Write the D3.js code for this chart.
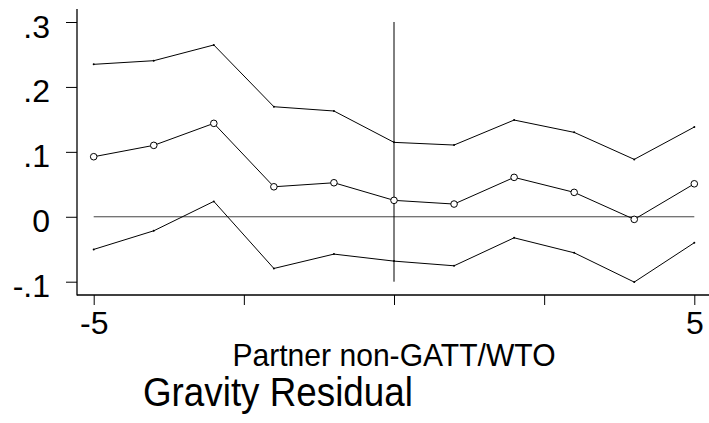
<!DOCTYPE html>
<html>
<head>
<meta charset="utf-8">
<script src="https://cdn.jsdelivr.net/npm/d3@7"></script>
<style>
  html, body { margin: 0; padding: 0; background: #fff; }
  svg { display: block; }
  text { font-family: "Liberation Sans", Arial, Helvetica, sans-serif; fill: #000; }
</style>
</head>
<body>
<svg id="chart" width="709" height="423"></svg>
<script>
// Event-time leads/lags
const periods = [-5, -4, -3, -2, -1, 0, 1, 2, 3, 4, 5];
// Point estimates and 95% confidence bounds
const estimate = [0.0925, 0.110, 0.1439, 0.0462, 0.0524, 0.0253, 0.0196, 0.0607, 0.0376, -0.004, 0.0508];
const upperCI  = [0.2348, 0.2404, 0.2646, 0.1695, 0.1629, 0.1146, 0.1105, 0.149, 0.130, 0.0884, 0.1382];
const lowerCI  = [-0.0503, -0.0216, 0.0237, -0.0796, -0.0575, -0.0683, -0.0755, -0.0324, -0.0555, -0.1006, -0.040];
// Axis ticks
const yTicks = [-0.1, 0, 0.1, 0.2, 0.3];
const yTickLabels = ["-.1", "0", ".1", ".2", ".3"];
const xTicks = [-5, -2.5, 0, 2.5, 5];
const xTickLabels = ["-5", "", "", "", "5"];
const xTitle = "Partner non-GATT/WTO";
const chartTitle = "Gravity Residual";

const svg = d3.select("#chart");

const x = d3.scaleLinear().domain([-5, 5]).range([93.7, 694.3]);
const y = d3.scaleLinear().domain([-0.1, 0.3]).range([281.7, 22]);

const axisX = 77, axisY = 295;

// Y axis
const yAxis = d3.axisLeft(y).tickValues(yTicks)
  .tickFormat((d, i) => yTickLabels[i]).tickSize(11).tickPadding(16).tickSizeOuter(0);
const gy = svg.append("g").attr("transform", `translate(${axisX},0)`).call(yAxis);
gy.select(".domain").remove();
gy.selectAll(".tick line").attr("stroke", "#000").attr("stroke-width", 1);
gy.selectAll(".tick text").attr("font-size", 32).attr("dy", "0.47em");
svg.append("line").attr("x1", axisX).attr("x2", axisX).attr("y1", 9).attr("y2", axisY + 0.5)
  .attr("stroke", "#000").attr("stroke-width", 1.3);

// X axis
const xAxis = d3.axisBottom(x).tickValues(xTicks)
  .tickFormat((d, i) => xTickLabels[i]).tickSize(10).tickPadding(6).tickSizeOuter(0);
const gx = svg.append("g").attr("transform", `translate(0,${axisY})`).call(xAxis);
gx.select(".domain").remove();
gx.selectAll(".tick line").attr("stroke", "#000").attr("stroke-width", 1);
gx.selectAll(".tick text").attr("font-size", 32);
svg.append("line").attr("x1", axisX).attr("x2", 709).attr("y1", axisY).attr("y2", axisY)
  .attr("stroke", "#000").attr("stroke-width", 1.3);

// Reference lines
svg.append("line").attr("x1", x(-5)).attr("x2", x(5)).attr("y1", y(0)).attr("y2", y(0))
  .attr("stroke", "#444").attr("stroke-width", 1);
svg.append("line").attr("x1", x(0)).attr("x2", x(0)).attr("y1", y(0.3)).attr("y2", y(-0.1))
  .attr("stroke", "#000").attr("stroke-width", 1);

const line = d3.line().x((d, i) => x(periods[i])).y(d => y(d));

[upperCI, lowerCI].forEach(series => {
  svg.append("path").datum(series).attr("d", line)
    .attr("fill", "none").attr("stroke", "#000").attr("stroke-width", 1);
  svg.append("g").selectAll("circle").data(series).join("circle")
    .attr("cx", (d, i) => x(periods[i])).attr("cy", d => y(d)).attr("r", 1)
    .attr("fill", "#000");
});

svg.append("path").datum(estimate).attr("d", line)
  .attr("fill", "none").attr("stroke", "#000").attr("stroke-width", 1);
svg.append("g").selectAll("circle").data(estimate).join("circle")
  .attr("cx", (d, i) => x(periods[i])).attr("cy", d => y(d)).attr("r", 3.3)
  .attr("fill", "#fff").attr("stroke", "#000").attr("stroke-width", 1);

// Titles (slightly condensed lettering)
svg.append("g").attr("transform", `translate(${x(0)},366) scale(0.94,1)`)
  .append("text").attr("text-anchor", "middle").attr("font-size", 32).text(xTitle);
svg.append("g").attr("transform", "translate(143,406) scale(0.92,1)")
  .append("text").attr("text-anchor", "start").attr("font-size", 40).text(chartTitle);
</script>
</body>
</html>
